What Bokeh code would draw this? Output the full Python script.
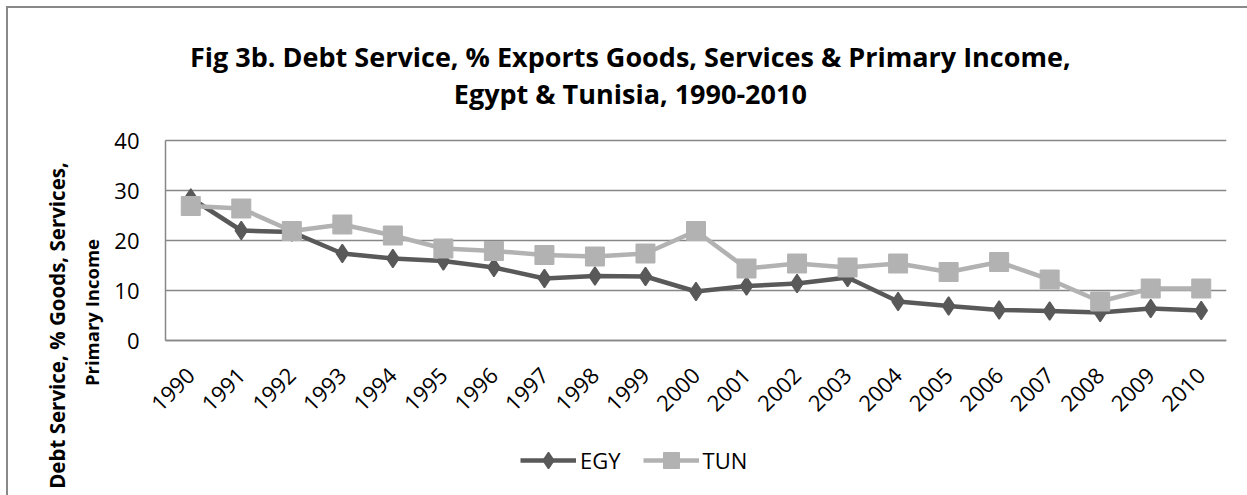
import math
from bokeh.plotting import figure
from bokeh.models import Range1d, FixedTicker, Legend, LegendItem, Label
from bokeh.embed import file_html
from bokeh.resources import INLINE

years = [1990, 1991, 1992, 1993, 1994, 1995, 1996, 1997, 1998, 1999, 2000,
         2001, 2002, 2003, 2004, 2005, 2006, 2007, 2008, 2009, 2010]
tick_labels = ["1990", "1991", "1992", "1993", "1994", "1995", "1996", "1997",
               "1998", "1999", "2000", "2001", "2002", "2003", "2004", "2005",
               "2006", "2007", "2008", "2009", "2010"]
egy = [28.5, 22.0, 21.7, 17.4, 16.4, 15.9, 14.6, 12.4, 12.9, 12.8, 9.8,
       10.9, 11.4, 12.6, 7.8, 6.9, 6.1, 5.9, 5.6, 6.4, 6.0]
tun = [26.9, 26.4, 21.9, 23.2, 21.0, 18.4, 17.9, 17.1, 16.8, 17.4, 21.9,
       14.4, 15.4, 14.6, 15.4, 13.7, 15.7, 12.2, 7.8, 10.4, 10.4]
y_ticks = [0, 10, 20, 30, 40]

title_1 = "Fig 3b. Debt Service, % Exports Goods, Services & Primary Income,"
title_2 = "Egypt & Tunisia, 1990-2010"
y_title_1 = "Debt Service, % Goods, Services,"
y_title_2 = "Primary Income"

EGY_C = "#595959"
TUN_C = "#b2b2b2"
GRID_C = "#878787"
FONT = "Open Sans"

# category edges of the year axis and the value-axis extent
x_lo, x_hi = years[0] - 0.5, years[-1] + 0.5
y_lo, y_hi = y_ticks[0], y_ticks[-1]

# the frame reaches down to the legend, left to the value labels and a
# little above the top gridline; the axes sit at the category edge / zero line
p = figure(frame_width=1116, frame_height=370, output_backend="svg",
           toolbar_location=None, title=None,
           x_range=Range1d(x_lo - 55 / 50.524, x_hi), y_range=Range1d(-31, 43),
           min_border_left=110, min_border_right=21, min_border_top=125,
           min_border_bottom=0)
p.styles = {"box-shadow": "inset 6px 6px 0 0 #ffffff, inset 8px 8px 0 0 #898989"}
p.outline_line_color = None
p.background_fill_color = None
p.border_fill_color = None
p.xgrid.grid_line_color = None
p.ygrid.grid_line_color = None

# horizontal gridlines over the category span
p.segment(x0=[x_lo] * len(y_ticks), y0=y_ticks, x1=[x_hi] * len(y_ticks),
          y1=y_ticks, line_color=GRID_C, line_width=1.3)

# axes
p.xaxis.ticker = FixedTicker(ticks=years)
p.xaxis.major_label_overrides = {y: t for y, t in zip(years, tick_labels)}
p.xaxis.major_label_orientation = math.pi / 4
p.xaxis.fixed_location = y_lo
p.xaxis.bounds = (x_lo, x_hi)
p.yaxis.ticker = FixedTicker(ticks=y_ticks)
p.yaxis.fixed_location = x_lo
p.yaxis.bounds = (y_lo, y_hi)
for ax in (p.xaxis[0], p.yaxis[0]):
    ax.axis_line_color = GRID_C
    ax.axis_line_width = 1.5
    ax.major_tick_line_color = None
    ax.minor_tick_line_color = None
    ax.major_tick_out = 0
    ax.major_tick_in = 0
    ax.major_label_text_font = FONT
    ax.major_label_text_font_size = "22px"
    ax.major_label_text_color = "#000000"
p.yaxis.major_label_standoff = 26
p.xaxis.major_label_standoff = 31

# series
l1 = p.line(years, egy, line_color=EGY_C, line_width=4.5)
s1 = p.scatter(years, egy, marker="diamond", size=18,
               fill_color=EGY_C, line_color=EGY_C, line_width=1.5)
l2 = p.line(years, tun, line_color=TUN_C, line_width=4.5)
s2 = p.scatter(years, tun, marker="square", size=19,
               fill_color=TUN_C, line_color=TUN_C)

legend = Legend(items=[LegendItem(label="EGY", renderers=[l1, s1]),
                       LegendItem(label="TUN", renderers=[l2, s2])],
                orientation="horizontal", location=(410, 15),
                glyph_width=56, glyph_height=40, label_standoff=4, spacing=22,
                padding=0, margin=0, border_line_color=None,
                background_fill_alpha=0,
                label_text_font=FONT, label_text_font_size="22px",
                label_text_color="#000000")
p.add_layout(legend, "center")

# titles, placed through the plot's own scales
for txt, yy in ((title_1, 56.9), (title_2, 49.5)):
    p.add_layout(Label(x=1998.7, y=yy, text=txt, text_align="center",
                       text_baseline="alphabetic", text_font=FONT,
                       text_font_size="27px", text_font_style="bold",
                       text_color="#000000"), "above")
for txt, xx, yy, fs in ((y_title_1, 1987.36, 3.0, "20.5px"),
                        (y_title_2, 1988.03, 5.6, "18.5px")):
    p.add_layout(Label(x=xx, y=yy, text=txt, angle=math.pi / 2,
                       text_align="center", text_baseline="middle",
                       text_font=FONT, text_font_size=fs,
                       text_font_style="bold", text_color="#000000"), "left")

open("out.html", "w").write(file_html(p, INLINE))
